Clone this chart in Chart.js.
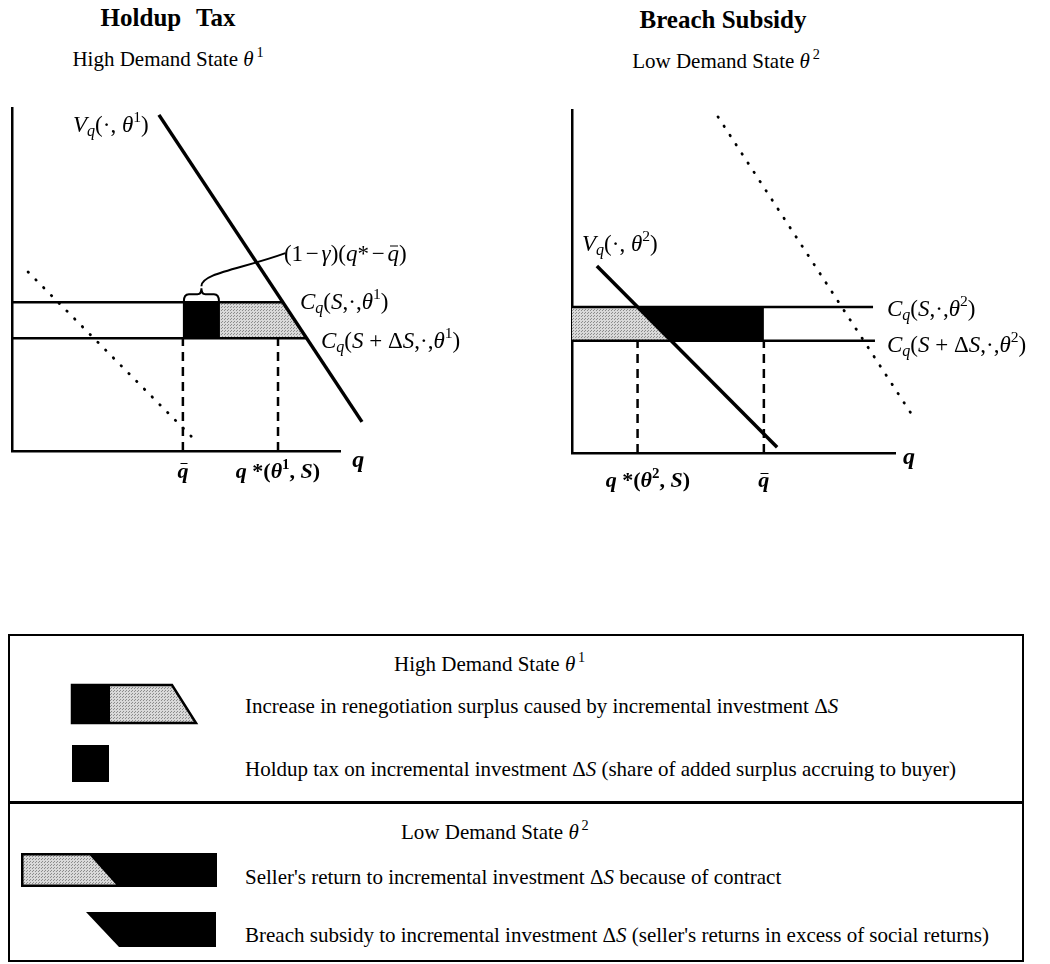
<!DOCTYPE html>
<html>
<head>
<meta charset="utf-8">
<script src="https://cdn.jsdelivr.net/npm/chart.js@4.4.1/dist/chart.umd.min.js"></script>
<style>
  body { margin: 0; width: 1050px; height: 964px; position: relative; overflow: hidden;
         background: #fff; color: #000; font-family: "Liberation Serif", "Times New Roman", serif; }
  .panel { position: absolute; top: 0; width: 525px; height: 500px; }
  .panel canvas { position: absolute; left: 0; top: 0; }
  .title { position: absolute; font-weight: bold; font-size: 25px; transform: translate(-50%, -50%); white-space: nowrap; }
  .sub { position: absolute; font-size: 21px; transform: translate(-50%, -50%); white-space: nowrap; }
  .lbl { position: absolute; white-space: nowrap; font-size: 23px; line-height: 1; }
  .lbl.ax { font-weight: bold; font-size: 22px; }
  .lbl.big { font-size: 24px; font-weight: bold; }
  .m { padding: 0 0.12em; }
  sub { font-size: 0.7em; vertical-align: -0.3em; line-height: 0; }
  sup { font-size: 0.68em; vertical-align: 0.6em; line-height: 0; }
  .sp { margin-left: 0.2em; }
  .bar { position: relative; display: inline-block; }
  .bar::before { content: ""; position: absolute; left: 0.12em; right: 0.04em; top: 0.16em; border-top: 0.08em solid #000; }
  .legend { position: absolute; left: 8px; top: 634px; width: 1016px; height: 328px; box-sizing: border-box;
            border: 2px solid #000; }
  .divider { position: absolute; left: 0; right: 0; top: 165px; border-top: 3px solid #000; }
  .ltxt { position: absolute; font-size: 21px; white-space: nowrap; transform: translateY(-50%); }
  svg.sw { position: absolute; left: 0; top: 0; }
</style>
</head>
<body>

<div class="title" style="left:168px; top:18px; word-spacing:9px;">Holdup Tax</div>
<div class="sub" style="left:168px; top:59px;">High Demand State <i>θ</i><sup class="sp">1</sup></div>
<div class="title" style="left:723px; top:20px;">Breach Subsidy</div>
<div class="sub" style="left:726px; top:61px;">Low Demand State <i>θ</i><sup class="sp">2</sup></div>

<div class="panel" id="panel-high" style="left:0px;"><canvas id="chart-high" width="525" height="500"></canvas></div>
<div class="panel" id="panel-low" style="left:525px;"><canvas id="chart-low" width="525" height="500"></canvas></div>

<div class="legend">
  <div class="divider"></div>
  <div class="ltxt" style="left:384px; top:28px;">High Demand State <i>θ</i><sup class="sp">1</sup></div>
  <div class="ltxt" style="left:235px; top:70px;">Increase in renegotiation surplus caused by incremental investment Δ<i>S</i></div>
  <div class="ltxt" style="left:235px; top:133px;">Holdup tax on incremental investment Δ<i>S</i> (share of added surplus accruing to buyer)</div>
  <div class="ltxt" style="left:391px; top:196px;">Low Demand State <i>θ</i><sup class="sp">2</sup></div>
  <div class="ltxt" style="left:235px; top:241px;">Seller's return to incremental investment Δ<i>S</i> because of contract</div>
  <div class="ltxt" style="left:235px; top:299px;">Breach subsidy to incremental investment Δ<i>S</i> (seller's returns in excess of social returns)</div>
</div>

<svg class="sw" width="1050" height="964">
  <defs>
    <pattern id="stip" width="3" height="3" patternUnits="userSpaceOnUse">
      <rect width="3" height="3" fill="#d9d9d9"></rect>
      <rect x="0" y="0" width="1" height="1" fill="#8c8c8c"></rect>
      <rect x="2" y="1" width="1" height="1" fill="#8c8c8c"></rect>
    </pattern>
  </defs>
  <polygon points="72,685 172,685 196,723 72,723" fill="url(#stip)" stroke="#000" stroke-width="2.5"></polygon>
  <rect x="72" y="685" width="38" height="38" fill="#000"></rect>
  <rect x="72" y="745" width="37" height="37" fill="#000"></rect>
  <rect x="21" y="853" width="196" height="34" fill="#000"></rect>
  <polygon points="23.5,855.5 90,855.5 116,884.5 23.5,884.5" fill="url(#stip)"></polygon>
  <polygon points="86,912 216,912 216,947 119,947" fill="#000"></polygon>
</svg>

<script>
// value axis range shared by both panels
const qRange = [0, 10];
const pRange = [0, 10];

// High demand state θ¹ (left panel)
const highC = [4.34, 3.29];                 // C_q(S,·,θ¹), C_q(S+ΔS,·,θ¹)
const highCEnd = [8.26, 8.98];              // where each C line meets V_q
const highV = [[4.48, 9.80], [10.67, 0.85]];
const highDotted = [[0.49, 5.22], [5.64, 0.26]];
const highQ = [5.21, 6.34, 8.11];           // q̄, end of holdup block, q*(θ¹,S)

// Low demand state θ² (right panel)
const lowC = [4.26, 3.27];                  // C_q(S,·,θ²), C_q(S+ΔS,·,θ²)
const lowCEnd = [9.32, 9.38];
const lowV = [[0.77, 5.45], [6.35, 0.17]];
const lowCross = [2.03, 3.07];              // where V_q crosses each C line
const lowDotted = [[4.52, 9.80], [10.59, 1.02]];
const lowQ = [2.03, 5.94];                  // q*(θ²,S), q̄

function pts(arr) {
  return arr.map(function (p) { return { x: p[0], y: p[1] }; });
}

function stipple() {
  const c = document.createElement("canvas");
  c.width = 3; c.height = 3;
  const g = c.getContext("2d");
  g.fillStyle = "#d9d9d9"; g.fillRect(0, 0, 3, 3);
  g.fillStyle = "#8c8c8c"; g.fillRect(0, 0, 1, 1); g.fillRect(2, 1, 1, 1);
  return g.createPattern(c, "repeat");
}
const grey = stipple();

function solid(data, width) {
  return { data: data, borderColor: "#000", borderWidth: width, pointRadius: 0, fill: false, clip: false };
}
function dashed(q, top) {
  const d = solid([{ x: q, y: 0 }, { x: q, y: top }], 2.5);
  d.borderDash = [9, 6];
  return d;
}
function dotted(data) {
  const d = solid(data, 2.8);
  d.borderDash = [0.5, 10.5];
  d.borderCapStyle = "round";
  return d;
}
function area(data, color) {
  return { data: data, borderColor: "rgba(0,0,0,0)", borderWidth: 1, backgroundColor: color,
           pointRadius: 0, fill: "shape" };
}

function axis(range) {
  return {
    type: "linear", min: range[0], max: range[1],
    grid: { display: false, drawTicks: false },
    ticks: { display: false },
    border: { display: true, color: "#000", width: 2.5 }
  };
}

function makeChart(id, datasets, padding, plugins) {
  return new Chart(document.getElementById(id), {
    type: "line",
    data: { datasets: datasets },
    options: {
      responsive: false,
      animation: false,
      layout: { padding: padding },
      scales: { x: axis(qRange), y: axis(pRange) },
      plugins: { legend: { display: false }, tooltip: { enabled: false } },
      elements: { line: { tension: 0 } }
    },
    plugins: plugins || []
  });
}

// curly brace over the holdup block with its leader to the (1−γ)(q*−q̄) label
const bracePlugin = {
  id: "brace",
  afterDatasetsDraw(chart) {
    const { ctx, scales: { x, y } } = chart;
    const x1 = x.getPixelForValue(highQ[0]) + 1;
    const x2 = x.getPixelForValue(highQ[1]) - 1;
    const xm = (x1 + x2) / 2;
    const yc = y.getPixelForValue(highC[0]) - 1;
    ctx.save();
    ctx.strokeStyle = "#000";
    ctx.lineWidth = 2;
    ctx.beginPath();
    ctx.moveTo(x1, yc);
    ctx.quadraticCurveTo(x1, yc - 7, x1 + 5, yc - 7);
    ctx.lineTo(xm - 4, yc - 7);
    ctx.quadraticCurveTo(xm, yc - 7, xm, yc - 13);
    ctx.quadraticCurveTo(xm, yc - 7, xm + 4, yc - 7);
    ctx.lineTo(x2 - 5, yc - 7);
    ctx.quadraticCurveTo(x2, yc - 7, x2, yc);
    ctx.stroke();
    ctx.beginPath();
    ctx.moveTo(xm, yc - 15);
    ctx.bezierCurveTo(xm, yc - 28, xm + 40, yc - 32, xm + 84, yc - 48);
    ctx.stroke();
    ctx.restore();
  }
};

const highChart = makeChart("chart-high", [
  solid(pts(highV), 3.5),
  solid([{ x: 0, y: highC[0] }, { x: highCEnd[0], y: highC[0] }], 2.5),
  solid([{ x: 0, y: highC[1] }, { x: highCEnd[1], y: highC[1] }], 2.5),
  dashed(highQ[0], highC[1]),
  dashed(highQ[2], highC[1]),
  dotted(pts(highDotted)),
  area([{ x: highQ[0], y: highC[0] }, { x: highQ[1], y: highC[0] }, { x: highQ[1], y: highC[1] }, { x: highQ[0], y: highC[1] }], "#000"),
  area([{ x: highQ[1], y: highC[0] }, { x: highCEnd[0], y: highC[0] }, { x: highCEnd[1], y: highC[1] }, { x: highQ[1], y: highC[1] }], grey)
], { left: 12, right: 185, top: 108, bottom: 49 }, [bracePlugin]);

const lowChart = makeChart("chart-low", [
  solid(pts(lowV), 3.5),
  solid([{ x: 0, y: lowC[0] }, { x: lowCEnd[0], y: lowC[0] }], 2.5),
  solid([{ x: 0, y: lowC[1] }, { x: lowCEnd[1], y: lowC[1] }], 2.5),
  dashed(lowQ[0], lowC[1]),
  dashed(lowQ[1], lowC[1]),
  dotted(pts(lowDotted)),
  area([{ x: lowCross[0], y: lowC[0] }, { x: lowQ[1], y: lowC[0] }, { x: lowQ[1], y: lowC[1] }, { x: lowCross[1], y: lowC[1] }], "#000"),
  area([{ x: 0, y: lowC[0] }, { x: lowCross[0], y: lowC[0] }, { x: lowCross[1], y: lowC[1] }, { x: 0, y: lowC[1] }], grey)
], { left: 47, right: 155, top: 110, bottom: 47 });

// math labels, anchored in data units of each panel
const highLabels = [
  { x: 1.86, y: 9.53, html: "<i>V</i><sub><i>q</i></sub>(·, <i>θ</i><sup>1</sup>)" },
  { x: 8.78, y: 4.37, html: "<i>C</i><sub><i>q</i></sub>(<i>S</i>,·,<i>θ</i><sup>1</sup>)" },
  { x: 9.42, y: 3.25, html: "<i>C</i><sub><i>q</i></sub>(<i>S</i> + Δ<i>S</i>,·,<i>θ</i><sup>1</sup>)" },
  { x: 8.29, y: 5.77, html: "(1<span class=\"m\">−</span><i>γ</i>)(<i>q</i>*<span class=\"m\">−</span><i class=\"bar\">q</i>)" },
  { x: highQ[0], y: -0.58, center: true, cls: "ax", html: "<i class=\"bar\">q</i>" },
  { x: highQ[2], y: -0.58, center: true, cls: "ax", html: "<i>q</i> *(<i>θ</i><sup>1</sup>, <i>S</i>)" },
  { x: 10.37, y: -0.22, cls: "big", html: "<i>q</i>" }
];
const lowLabels = [
  { x: 0.31, y: 6.12, html: "<i>V</i><sub><i>q</i></sub>(·, <i>θ</i><sup>2</sup>)" },
  { x: 9.75, y: 4.23, html: "<i>C</i><sub><i>q</i></sub>(<i>S</i>,·,<i>θ</i><sup>2</sup>)" },
  { x: 9.75, y: 3.19, html: "<i>C</i><sub><i>q</i></sub>(<i>S</i> + Δ<i>S</i>,·,<i>θ</i><sup>2</sup>)" },
  { x: 2.35, y: -0.79, center: true, cls: "ax", html: "<i>q</i> *(<i>θ</i><sup>2</sup>, <i>S</i>)" },
  { x: lowQ[1], y: -0.79, center: true, cls: "ax", html: "<i class=\"bar\">q</i>" },
  { x: 10.25, y: -0.1, cls: "big", html: "<i>q</i>" }
];

function placeLabels(chart, holderId, labels) {
  const holder = document.getElementById(holderId);
  labels.forEach(function (l) {
    const div = document.createElement("div");
    div.className = "lbl" + (l.cls ? " " + l.cls : "");
    div.innerHTML = l.html;
    div.style.left = chart.scales.x.getPixelForValue(l.x) + "px";
    div.style.top = chart.scales.y.getPixelForValue(l.y) + "px";
    div.style.transform = l.center ? "translate(-50%, -50%)" : "translateY(-50%)";
    holder.appendChild(div);
  });
}
placeLabels(highChart, "panel-high", highLabels);
placeLabels(lowChart, "panel-low", lowLabels);
</script>
</body>
</html>
